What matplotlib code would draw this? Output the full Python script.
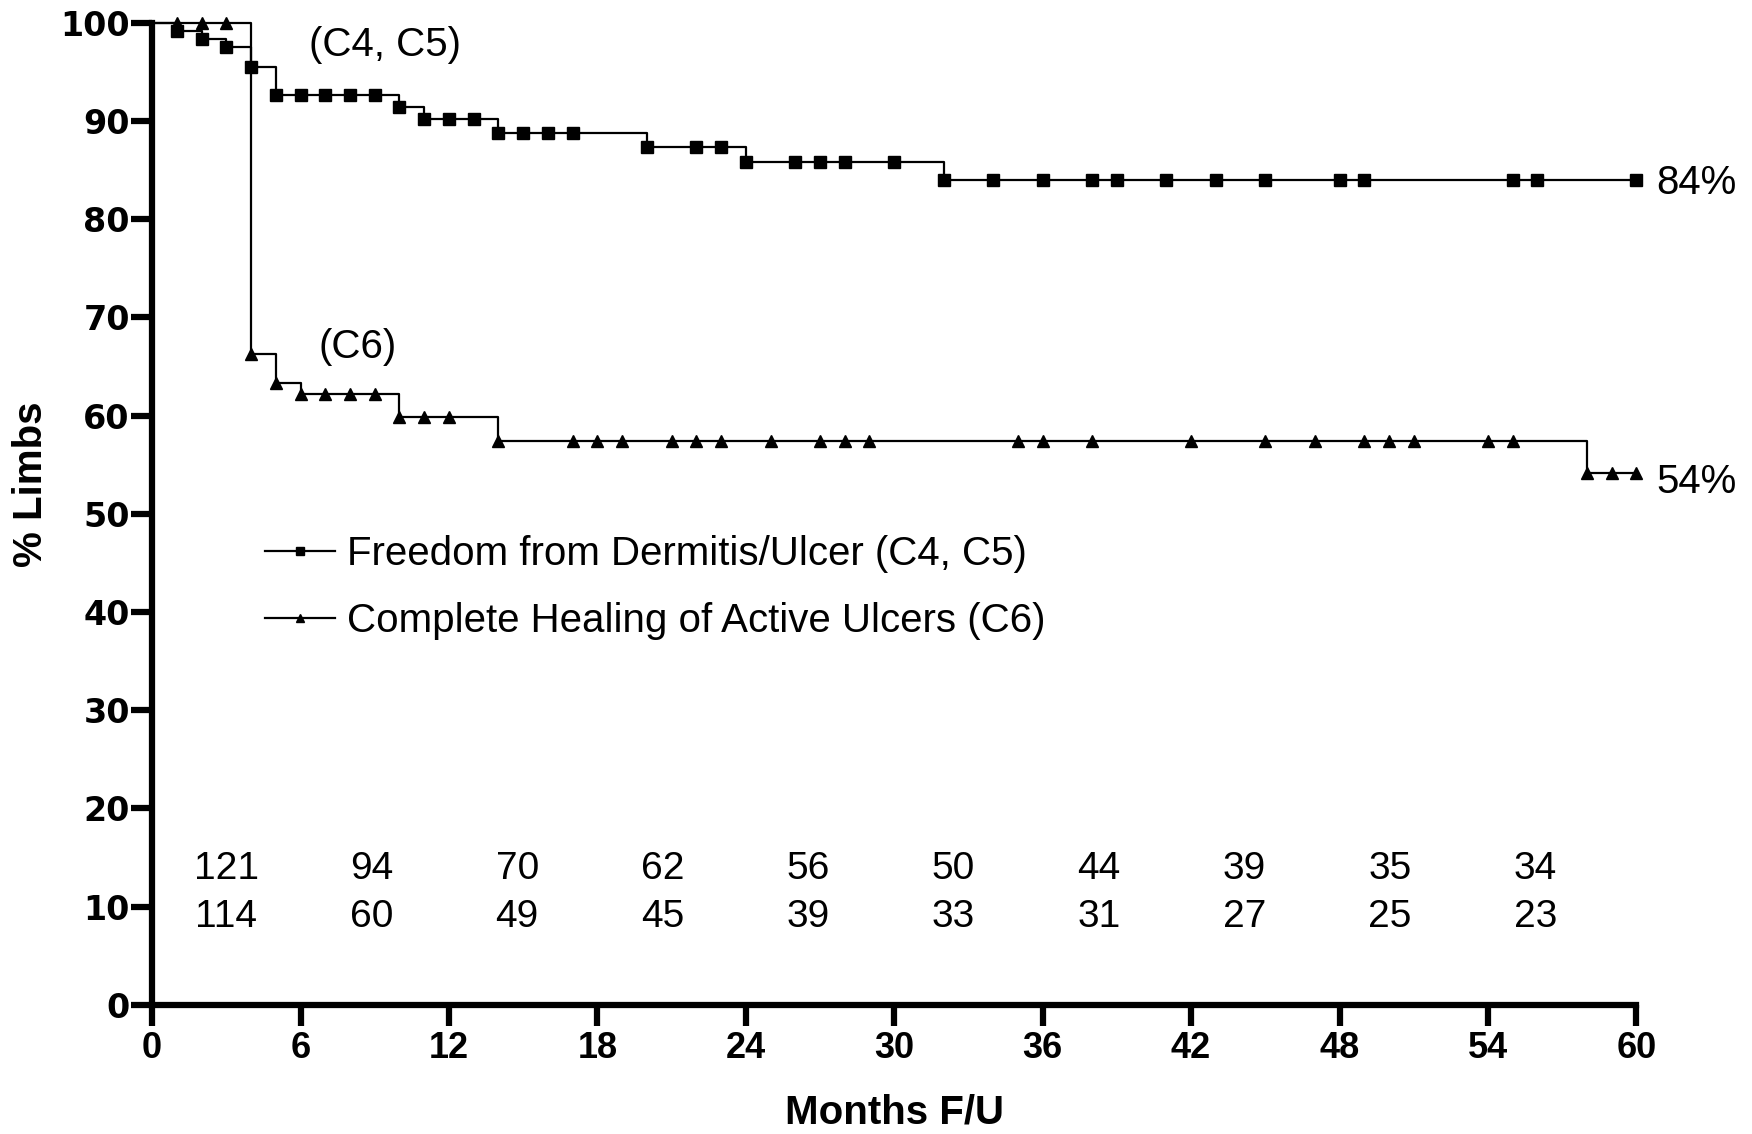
import matplotlib
matplotlib.use("Agg")
import matplotlib.pyplot as plt

plt.rcParams['font.family'] = ['Liberation Sans', 'DejaVu Sans']

# Freedom from dermitis/ulcer (C4, C5): step times and survival values
c45_t = [0, 1, 2, 3, 4, 5, 10, 11, 14, 20, 24, 32, 60]
c45_s = [100, 99.2, 98.3, 97.5, 95.5, 92.6, 91.4, 90.2, 88.8, 87.3, 85.8, 84.0, 84.0]
c45_marks = [1, 2, 3, 4, 5, 6, 7, 8, 9, 10, 11, 12, 13, 14, 15, 16, 17, 20, 22, 23,
             24, 26, 27, 28, 30, 32, 34, 36, 38, 39, 41, 43, 45, 48, 49, 55, 56, 60]

# Complete healing of active ulcers (C6)
c6_t = [0, 4, 5, 6, 10, 14, 58, 60]
c6_s = [100, 66.3, 63.3, 62.2, 59.9, 57.4, 54.2, 54.2]
c6_marks = [1, 2, 3, 4, 5, 6, 7, 8, 9, 10, 11, 12, 14, 17, 18, 19, 21, 22, 23, 25,
            27, 28, 29, 35, 36, 38, 42, 45, 47, 49, 50, 51, 54, 55, 58, 59, 60]

# numbers at risk
risk_c45 = [121, 94, 70, 62, 56, 50, 44, 39, 35, 34]
risk_c6 = [114, 60, 49, 45, 39, 33, 31, 27, 25, 23]
risk_x = [3 + i * 5.88 for i in range(10)]


def step_value(times, vals, x):
    v = vals[0]
    for tt, vv in zip(times, vals):
        if tt <= x:
            v = vv
    return v


fig = plt.figure(figsize=(17.52, 11.34), dpi=100)
ax = fig.add_axes([0.0868, 0.1138, 0.8472, 0.8662])

ax.step(c45_t, c45_s, where='post', color='black', lw=1.6, clip_on=False)
ax.plot(c45_marks, [step_value(c45_t, c45_s, m) for m in c45_marks], ls='none',
        marker='s', ms=8, color='black', clip_on=False)
ax.step(c6_t, c6_s, where='post', color='black', lw=1.6, clip_on=False)
ax.plot(c6_marks, [step_value(c6_t, c6_s, m) for m in c6_marks], ls='none',
        marker='^', ms=8, color='black', clip_on=False)

# legend handles
h1, = ax.plot([], [], color='black', lw=1.6, marker='s', ms=6)
h2, = ax.plot([], [], color='black', lw=1.6, marker='^', ms=6)
ax.legend([h1, h2], ['Freedom from Dermitis/Ulcer (C4, C5)',
                     'Complete Healing of Active Ulcers (C6)'],
          loc='upper left', bbox_to_anchor=(0.076, 0.478), frameon=False,
          fontsize=29, handlelength=1.75, handletextpad=0.3, labelspacing=0.72,
          borderaxespad=0, borderpad=0)

ax.text(9.4, 97.7, '(C4, C5)', fontsize=29, ha='center', va='center')
ax.text(8.3, 67.0, '(C6)', fontsize=29, ha='center', va='center')
ax.text(60.8, 83.7, '84%', fontsize=29, ha='left', va='center')
ax.text(60.8, 53.2, '54%', fontsize=29, ha='left', va='center')

for x, a, b in zip(risk_x, risk_c45, risk_c6):
    ax.text(x, 13.8, str(a), fontsize=28, ha='center', va='center')
    ax.text(x, 9.0, str(b), fontsize=28, ha='center', va='center')

ax.set_xlim(0, 60)
ax.set_ylim(0, 100)
ax.set_xticks(range(0, 61, 6))
ax.set_yticks(range(0, 101, 10))
for s in ['top', 'right']:
    ax.spines[s].set_visible(False)
for s in ['left', 'bottom']:
    ax.spines[s].set_linewidth(4.5)
ax.tick_params(direction='out', length=15, width=4.5, pad=4)
ax.tick_params(axis='y', pad=1)
for lab in ax.get_xticklabels():
    lab.set_fontsize(26)
    lab.set_fontweight('bold')
for lab in ax.get_yticklabels():
    lab.set_fontsize(24)
    lab.set_fontweight('bold')
    lab.set_family('DejaVu Sans')

ax.set_xlabel('Months F/U', fontsize=29, fontweight='bold', va='center')
ax.xaxis.set_label_coords(0.5, -0.109)
ax.set_ylabel('% Limbs', fontsize=29, fontweight='bold', va='center')
ax.yaxis.set_label_coords(-0.0815, 0.53)

fig.savefig('out.png', dpi=100)
